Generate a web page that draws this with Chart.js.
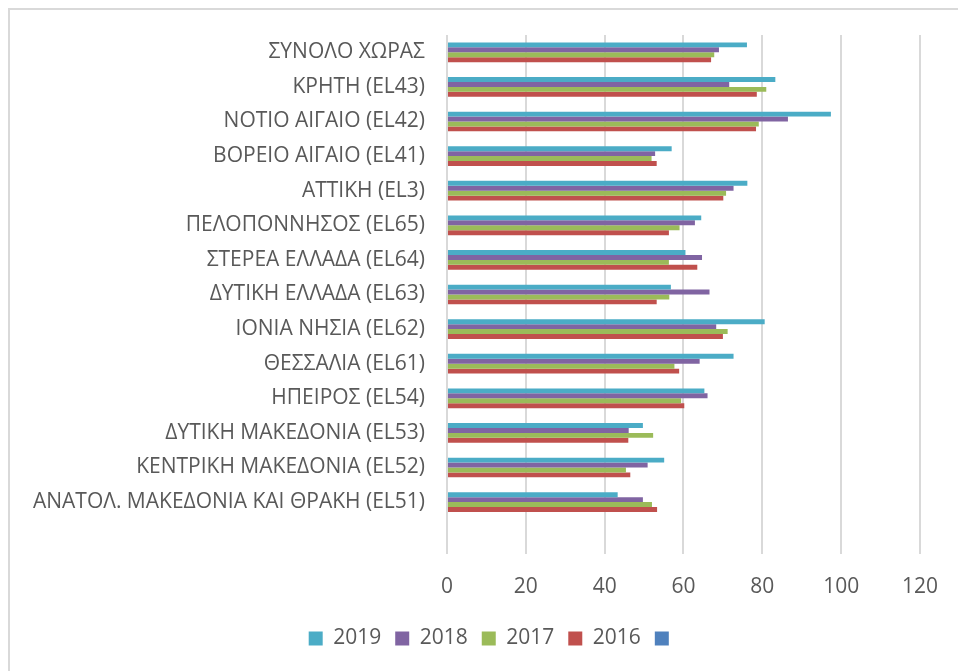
<!DOCTYPE html>
<html>
<head>
<meta charset="utf-8">
<script src="https://cdn.jsdelivr.net/npm/chart.js@4.4.1/dist/chart.umd.min.js"></script>
<style>
  html, body { margin: 0; padding: 0; background: #fff; }
  #frame {
    position: absolute; left: 8px; top: 8px;
    width: 1000px; height: 700px;
    border: 2px solid #d9d9d9;
    box-sizing: border-box;
  }
  #wrap { position: absolute; left: 0; top: 0; width: 958px; height: 671px; }
</style>
</head>
<body>
<div id="frame"></div>
<div id="wrap"><canvas id="chart"></canvas></div>
<script>
// Regions, top to bottom (last row is the empty one in the sheet)
const regions = [
    'ΣΥΝΟΛΟ ΧΩΡΑΣ',
    'ΚΡΗΤΗ (EL43)',
    'ΝΟΤΙΟ ΑΙΓΑΙΟ (EL42)',
    'ΒΟΡΕΙΟ ΑΙΓΑΙΟ (EL41)',
    'ΑΤΤΙΚΗ (EL3)',
    'ΠΕΛΟΠΟΝΝΗΣΟΣ (EL65)',
    'ΣΤΕΡΕΑ ΕΛΛΑΔΑ (EL64)',
    'ΔΥΤΙΚΗ ΕΛΛΑΔΑ (EL63)',
    'ΙΟΝΙΑ ΝΗΣΙΑ (EL62)',
    'ΘΕΣΣΑΛΙΑ (EL61)',
    'ΗΠΕΙΡΟΣ (EL54)',
    'ΔΥΤΙΚΗ ΜΑΚΕΔΟΝΙΑ (EL53)',
    'ΚΕΝΤΡΙΚΗ ΜΑΚΕΔΟΝΙΑ (EL52)',
    'ΑΝΑΤΟΛ. ΜΑΚΕΔΟΝΙΑ ΚΑΙ ΘΡΑΚΗ (EL51)',
    ''
];

const values2019 = [76.1, 83.3, 97.4, 57.0, 76.2, 64.5, 60.5, 56.8, 80.6, 72.7, 65.3, 49.7, 55.1, 43.3, null];
const values2018 = [69.0, 71.6, 86.5, 52.8, 72.7, 62.9, 64.7, 66.6, 68.3, 64.1, 66.1, 46.1, 50.9, 49.7, null];
const values2017 = [67.8, 81.0, 79.1, 51.9, 70.8, 59.0, 56.3, 56.4, 71.2, 57.7, 59.4, 52.3, 45.4, 52.0, null];
const values2016 = [67.0, 78.6, 78.4, 53.2, 70.1, 56.3, 63.5, 53.2, 70.0, 58.9, 60.2, 46.0, 46.5, 53.3, null];

const seriesNames = ['2019', '2018', '2017', '2016'];
const seriesColors = ['#4bacc6', '#8064a2', '#9bbb59', '#c0504d'];
const emptySeriesColor = '#4f81bd';

const xTicks = [0, 20, 40, 60, 80, 100, 120];

const textColor = '#595959';
const fontFamily = '"Open Sans", "Noto Sans", sans-serif';

const allValues = [values2019, values2018, values2017, values2016];

const datasets = allValues.map((vals, i) => ({
    label: seriesNames[i],
    data: vals,
    backgroundColor: seriesColors[i],
    borderWidth: 0,
    categoryPercentage: 0.57,
    barPercentage: 1.0
}));

// shift the legend a bit so it sits like in the original
const legendShift = {
    id: 'legendShift',
    afterLayout(chart) {
        if (chart.legend) {
            chart.legend.left += 34;
            chart.legend.right += 34;
        }
    }
};

new Chart(document.getElementById('chart'), {
    type: 'bar',
    data: { labels: regions, datasets: datasets },
    plugins: [legendShift],
    options: {
        indexAxis: 'y',
        responsive: true,
        maintainAspectRatio: false,
        animation: false,
        layout: { padding: { top: 35, right: 38, bottom: 12, left: 0 } },
        plugins: {
            tooltip: { enabled: false },
            legend: {
                position: 'bottom',
                labels: {
                    color: textColor,
                    font: { family: fontFamily, size: 21 },
                    boxWidth: 14,
                    boxHeight: 14,
                    padding: 14,
                    generateLabels(chart) {
                        const items = Chart.defaults.plugins.legend.labels.generateLabels(chart);
                        items.push({
                            text: '',
                            fillStyle: emptySeriesColor,
                            strokeStyle: emptySeriesColor,
                            lineWidth: 0,
                            hidden: false,
                            datasetIndex: -1
                        });
                        return items;
                    }
                }
            }
        },
        scales: {
            x: {
                min: 0,
                max: 120,
                afterBuildTicks(scale) {
                    scale.ticks = xTicks.map(v => ({ value: v }));
                },
                grid: { color: '#d9d9d9', lineWidth: 2, drawTicks: false },
                border: { display: false },
                ticks: {
                    color: textColor,
                    font: { family: fontFamily, size: 21 },
                    padding: 20
                },
                afterFit(scale) { scale.height = 60; }
            },
            y: {
                grid: { display: false },
                border: { display: false },
                ticks: {
                    color: textColor,
                    font: { family: fontFamily, size: 21 },
                    padding: 14,
                    autoSkip: false
                },
                afterFit(scale) { scale.width = 447; }
            }
        }
    }
});
</script>
</body>
</html>
